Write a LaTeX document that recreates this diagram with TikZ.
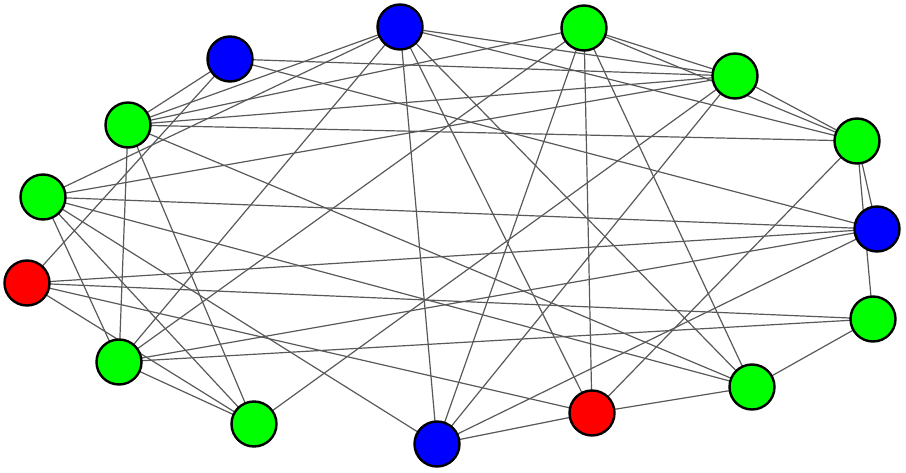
\documentclass[tikz,border=0pt]{standalone}
\usetikzlibrary{backgrounds}
\begin{document}
\begin{tikzpicture}[x=1pt,y=-1pt,
  vtx/.style={circle,draw=black,line width=2.4pt,minimum size=45pt,inner sep=0pt},
  vb/.style={vtx,fill=blue},
  vg/.style={vtx,fill=green},
  vr/.style={vtx,fill=red},
  edge/.style={draw=black!65,line width=1.2pt}]
\useasboundingbox (0,0) rectangle (906,473);
\node[vb] (A) at (230,59) {};
\node[vb] (B) at (400,27) {};
\node[vg] (C) at (584,28) {};
\node[vg] (D) at (735,76) {};
\node[vg] (E) at (857,141) {};
\node[vb] (F) at (877,229) {};
\node[vg] (G) at (873,319) {};
\node[vg] (H) at (752,387) {};
\node[vr] (I) at (592,413) {};
\node[vb] (J) at (437,444) {};
\node[vg] (K) at (254,424) {};
\node[vg] (L) at (119,362) {};
\node[vr] (M) at (27,283) {};
\node[vg] (N) at (43,197) {};
\node[vg] (O) at (128,125) {};
\begin{scope}[on background layer]
\foreach \u/\v in {A/D,A/F,A/O,A/M,
  B/O,B/N,B/L,B/J,B/I,B/H,B/D,B/E,
  C/O,C/L,C/J,C/I,C/H,C/D,C/E,
  D/O,D/N,D/K,D/J,D/E,
  E/O,E/F,E/G,E/I,
  F/N,F/M,F/L,F/J,
  G/M,G/L,G/H,
  H/O,H/N,H/I,
  I/J,I/M,
  J/N,
  K/L,K/M,K/O,K/N,
  L/N,L/O}
  \draw[edge] (\u.center) -- (\v.center);
\end{scope}
\end{tikzpicture}
\end{document}
